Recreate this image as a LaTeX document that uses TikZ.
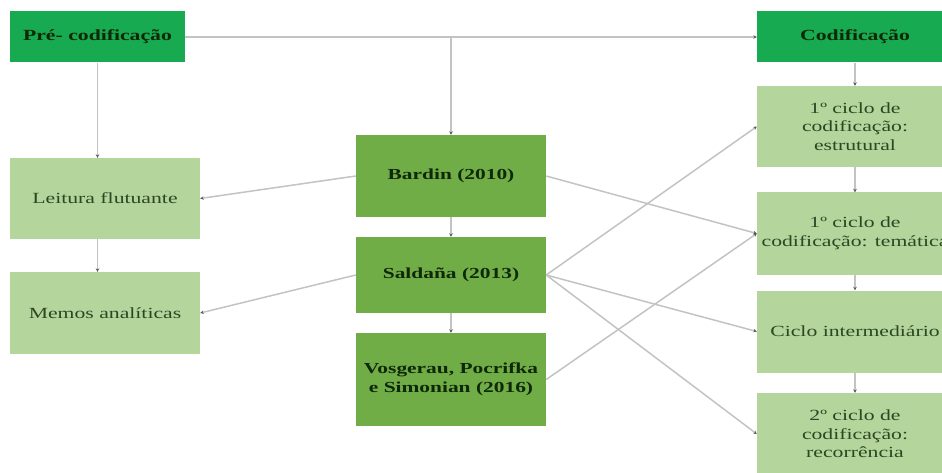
\documentclass[tikz,border=0pt]{standalone}
\usepackage{fontspec}
\setmainfont{Liberation Serif}[FakeStretch=1.4]
\usetikzlibrary{arrows.meta}
\definecolor{topgreen}{RGB}{24,170,80}
\definecolor{midgreen}{RGB}{112,173,71}
\definecolor{lightgreen}{RGB}{180,214,156}
\definecolor{txtdark}{RGB}{14,40,8}
\definecolor{txtlight}{RGB}{45,70,35}
\definecolor{linegray}{RGB}{195,195,195}
\definecolor{tipgray}{RGB}{90,90,90}
\tikzset{
  topbox/.style={fill=topgreen, draw=none, minimum width=#1, text=txtdark, font=\bfseries\fontsize{15.5}{18}\selectfont, align=center, inner sep=0pt},
  midbox/.style={fill=midgreen, draw=none, minimum width=190pt, text=txtdark, font=\bfseries\fontsize{15.3}{19}\selectfont, align=center, inner sep=0pt},
  litebox/.style={fill=lightgreen, draw=none, minimum width=#1, text=txtlight, font=\fontsize{15.5}{18.5}\selectfont, align=center, inner sep=0pt},
  conn/.style={draw=linegray, line width=1.5pt, -{Stealth[length=3.5pt,width=3.5pt,color=tipgray]}}
}
\begin{document}
\begin{tikzpicture}[x=1pt,y=-1pt]
\useasboundingbox (0,0) rectangle (942,473);
\begin{scope}
\clip (0,0) rectangle (942,473);
% top boxes
\node[topbox=175pt, minimum height=51pt] (pre) at (97.5,37) {Pré- codificação};
\node[topbox=196pt, minimum height=51pt] (cod) at (855,37) {Codificação};
% left column
\node[litebox=190pt, minimum height=81pt] (leit) at (105,198.5) {Leitura flutuante};
\node[litebox=190pt, minimum height=82pt] (memo) at (105,313) {Memos analíticas};
% middle column
\node[midbox, minimum height=82pt] (bard) at (451,176) {Bardin (2010)};
\node[midbox, minimum height=76pt] (sald) at (451,275) {Saldaña (2013)};
\node[midbox, minimum height=93pt] (vosg) at (451,379.5) {Vosgerau, Pocrifka\\e Simonian (2016)};
% right column
\node[litebox=196pt, minimum height=81pt] (c1e) at (855,126.5) {1º ciclo de\\codificação:\\estrutural};
\node[litebox=196pt, minimum height=82pt] (c1t) at (855,233.5) {1º ciclo de\\codificação: temática};
\node[litebox=196pt, minimum height=82pt] (cint) at (855,331.5) {Ciclo intermediário};
\node[litebox=196pt, minimum height=82pt] (c2) at (855,434) {2º ciclo de\\codificação:\\recorrência};
\end{scope}
% connectors
\coordinate (j) at (bard.north |- pre.east);
\draw[conn] (pre.east) -- (cod.west);
\draw[conn] (j) -- (bard.north);
\draw[conn] (pre.south) -- (pre.south |- leit.north);
\draw[conn] (leit.south -| pre.south) -- (memo.north -| pre.south);
\draw[conn] (bard.south) -- (sald.north);
\draw[conn] (sald.south) -- (vosg.north);
\draw[conn] (cod.south) -- (c1e.north);
\draw[conn] (c1e.south) -- (c1t.north);
\draw[conn] (c1t.south) -- (cint.north);
\draw[conn] (cint.south) -- (c2.north);
\draw[conn] (bard.west) -- (leit.east);
\draw[conn] (sald.west) -- (memo.east);
\draw[conn] (bard.east) -- (c1t.west);
\draw[conn] (vosg.east) -- (c1t.west);
\draw[conn] (sald.east) -- (c1e.west);
\draw[conn] (sald.east) -- (cint.west);
\draw[conn] (sald.east) -- (c2.west);
\end{tikzpicture}
\end{document}
